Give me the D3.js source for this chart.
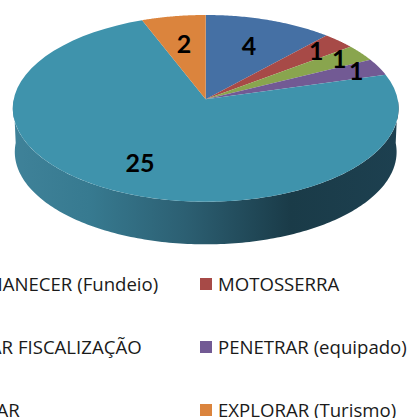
<!DOCTYPE html>
<html>
<head>
<meta charset="utf-8">
<script src="https://d3js.org/d3.v7.min.js"></script>
<style>
  html, body { margin: 0; padding: 0; background: #fff; overflow: hidden; }
  svg { display: block; font-family: "Open Sans", sans-serif; }
</style>
</head>
<body>
<script>
// values, the left legend column is cut by the page edge
var categories = ["PERMANECER (Fundeio)", "MOTOSSERRA", "EVITAR FISCALIZAÇÃO", "PENETRAR (equipado)", "PESCAR", "EXPLORAR (Turismo)"];
var values = [4, 1, 1, 1, 25, 2];
var colors = ["#4570a4", "#a74a47", "#89a54e", "#725a94", "#3f93ac", "#db843d"];

var width = 408, height = 418;

var svg = d3.select("body").append("svg")
  .attr("width", width)
  .attr("height", height);

// perspective squash of a flat disc, v is -1 at the back and 1 at the front
var k = 0.097;
function project(angle, c, f) {
  var X = Math.sin(angle), v = -Math.cos(angle);
  var s = 1 / (1 - k * v);
  return [c.x + c.rx * f * X * s, c.y + c.ry * f * v * s];
}
var topDisc = { x: 205.7, y: 99.3, rx: 192, ry: 92.5 };
var bottomDisc = { x: 205.7, y: 143, rx: 190, ry: 91.5 };

var pie = d3.pie().sort(null).value(function (d) { return d; });
var arcs = pie(values);
var line = d3.line();

function wedgePath(d) {
  var pts = [[topDisc.x, topDisc.y]];
  for (var i = 0; i <= 60; i++) {
    pts.push(project(d.startAngle + (d.endAngle - d.startAngle) * i / 60, topDisc, 1));
  }
  return line(pts) + "Z";
}

// side wall
var grad = svg.append("defs").append("linearGradient").attr("id", "side")
  .attr("gradientUnits", "userSpaceOnUse")
  .attr("x1", 12).attr("x2", 399).attr("y1", 0).attr("y2", 0);
[[0, "#3f8299"], [0.2, "#377a90"], [0.45, "#2c5f72"], [0.72, "#1a3b48"], [1, "#1d4050"]].forEach(function (s) {
  grad.append("stop").attr("offset", s[0]).attr("stop-color", s[1]);
});

var wall = [];
for (var i = 0; i <= 180; i++) wall.push(project(Math.PI / 2 + Math.PI * i / 180, topDisc, 1));
for (var j = 180; j >= 0; j--) wall.push(project(Math.PI / 2 + Math.PI * j / 180, bottomDisc, 1));
svg.append("path").attr("d", line(wall) + "Z").attr("fill", "url(#side)");

// top of the pie
svg.selectAll("path.slice")
  .data(arcs)
  .enter().append("path")
  .attr("class", "slice")
  .attr("d", wedgePath)
  .attr("fill", function (d, i) { return colors[i]; });

// how far out along its wedge each label sits
var labelRadius = [0.68, 0.83, 0.86, 0.87, 0.7, 0.67];
function labelPos(d, i) {
  return project((d.startAngle + d.endAngle) / 2, topDisc, labelRadius[i]);
}
svg.selectAll("text.val")
  .data(arcs)
  .enter().append("text")
  .attr("class", "val")
  .attr("text-anchor", "middle")
  .attr("font-family", "Lato, sans-serif")
  .attr("font-weight", "bold")
  .attr("font-size", 25)
  .attr("fill", "#000")
  .attr("x", function (d, i) { return labelPos(d, i)[0]; })
  .attr("y", function (d, i) { return labelPos(d, i)[1] + 9; })
  .text(function (d) { return d.data; });

// legend, two columns, the left one runs off the page like the original
var legendY = d3.scalePoint().domain([0, 1, 2]).range([284, 410]);

var items = svg.selectAll("g.legend")
  .data(categories)
  .enter().append("g")
  .attr("class", "legend")
  .attr("transform", function (d, i) {
    return "translate(" + (i % 2 ? 200 : -65) + "," + legendY(Math.floor(i / 2)) + ")";
  });
items.append("rect")
  .attr("x", 0).attr("y", -6).attr("width", 12).attr("height", 12)
  .attr("fill", function (d, i) { return colors[i]; });
items.append("text")
  .attr("x", 18).attr("y", 6.5)
  .attr("font-size", 18.6)
  .attr("fill", "#1a1a1a")
  .text(function (d) { return d; });
</script>
</body>
</html>
